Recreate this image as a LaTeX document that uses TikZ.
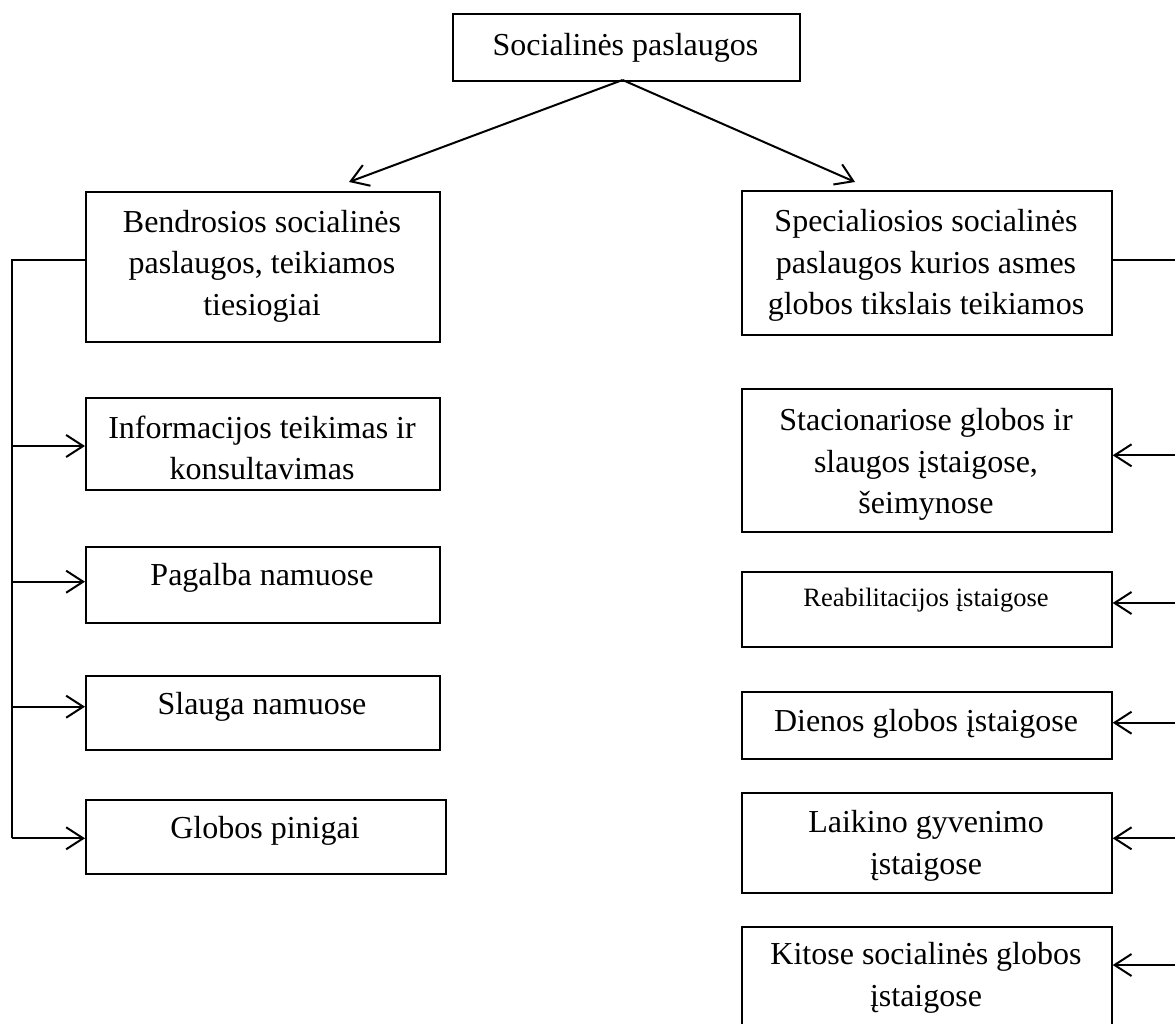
\documentclass[tikz,border=0pt]{standalone}
\usepackage{fontspec}
\setmainfont{Liberation Serif}
\usetikzlibrary{arrows.meta}
\begin{document}
\begin{tikzpicture}[x=1pt,y=-1pt,
  box/.style={draw, line width=1.7pt, rectangle, inner sep=0pt, anchor=north west},
  txt/.style={align=center, inner sep=0pt, font=\fontsize{32}{41.5}\selectfont},
  smalltxt/.style={align=center, inner sep=0pt, font=\fontsize{26.5}{34}\selectfont},
  conn/.style={line width=2pt},
  arr/.style={line width=2pt, -{Straight Barb[length=17pt,width=22pt,line width=2pt]}}]
\useasboundingbox (0,0) rectangle (1175,1024);
% boxes
\node[box, minimum width=347pt, minimum height=67pt] (top) at (452,13) {};
\node[box, minimum width=354pt, minimum height=150pt] (bend) at (85,191) {};
\node[box, minimum width=354pt, minimum height=92pt] (info) at (85,397) {};
\node[box, minimum width=354pt, minimum height=76pt] (pag) at (85,546) {};
\node[box, minimum width=354pt, minimum height=74pt] (slg) at (85,675) {};
\node[box, minimum width=360pt, minimum height=74pt] (glob) at (85,799) {};
\node[box, minimum width=370pt, minimum height=144pt] (spec) at (741,190) {};
\node[box, minimum width=370pt, minimum height=143pt] (stac) at (741,388) {};
\node[box, minimum width=370pt, minimum height=75pt] (reab) at (741,571) {};
\node[box, minimum width=370pt, minimum height=67pt] (dien) at (741,691) {};
\node[box, minimum width=370pt, minimum height=100pt] (laik) at (741,792) {};
\node[box, minimum width=370pt, minimum height=100pt] (kit) at (741,926) {};
% texts
\node[txt] (topT) at (625.5,48) {Socialinės paslaugos};
\node[txt] (bendT) at (262,266) {Bendrosios socialinės\\paslaugos, teikiamos\\tiesiogiai};
\node[txt] (infoT) at (262,448) {Informacijos teikimas ir\\konsultavimas};
\node[txt] (pagT) at (262,578) {Pagalba namuose};
\node[txt] (slgT) at (262,707) {Slauga namuose};
\node[txt] (globT) at (265,831) {Globos pinigai};
\node[txt] (specT) at (926,265.5) {Specialiosios socialinės\\paslaugos kurios asmes\\globos tikslais teikiamos};
\node[txt] (stacT) at (926,464.5) {Stacionariose globos ir\\slaugos įstaigose,\\šeimynose};
\node[smalltxt] (reabT) at (926,600) {Reabilitacijos įstaigose};
\node[txt] (dienT) at (926,723.5) {Dienos globos įstaigose};
\node[txt] (laikT) at (926,846) {Laikino gyvenimo\\įstaigose};
\node[txt] (kitT) at (926,978) {Kitose socialinės globos\\įstaigose};
% top arrows
\coordinate (src) at (622.6,80);
\coordinate (tipL) at (349,182);
\coordinate (tipR) at (855,182);
\draw[arr] (src) -- (tipL);
\draw[arr] (src) -- (tipR);
% left spine
\coordinate (Ltop) at (12,260);
\coordinate (L1) at (12,446);
\coordinate (L2) at (12,581.7);
\coordinate (L3) at (12,706.7);
\coordinate (L4) at (12,838.3);
\draw[conn] (Ltop -| bend.west) -- (Ltop) -- (L4);
\draw[arr] (L1) -- (L1 -| info.west);
\draw[arr] (L2) -- (L2 -| pag.west);
\draw[arr] (L3) -- (L3 -| slg.west);
\draw[arr] (L4) -- (L4 -| glob.west);
% right side
\coordinate (Rtop) at (1176,260);
\coordinate (R1) at (1176,455.3);
\coordinate (R2) at (1176,603);
\coordinate (R3) at (1176,722.7);
\coordinate (R4) at (1176,838.3);
\coordinate (R5) at (1176,965);
\draw[conn] (Rtop -| spec.east) -- (Rtop);
\draw[arr] (R1) -- (R1 -| stac.east);
\draw[arr] (R2) -- (R2 -| reab.east);
\draw[arr] (R3) -- (R3 -| dien.east);
\draw[arr] (R4) -- (R4 -| laik.east);
\draw[arr] (R5) -- (R5 -| kit.east);
\end{tikzpicture}
\end{document}
